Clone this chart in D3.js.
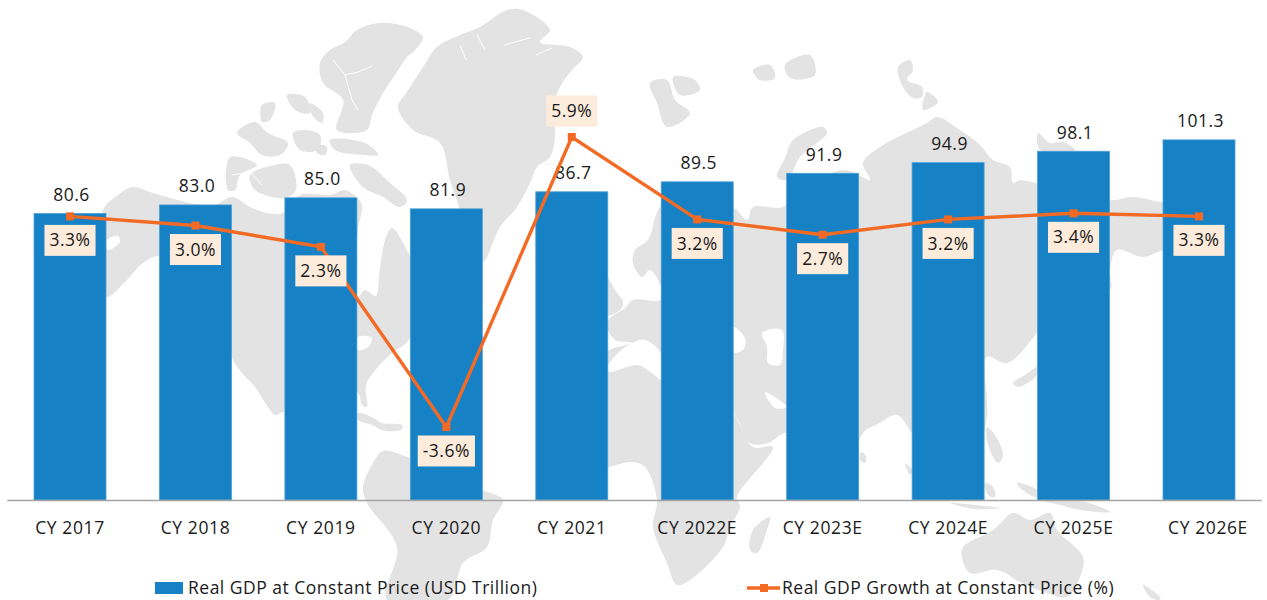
<!DOCTYPE html>
<html>
<head>
<meta charset="utf-8">
<script src="https://cdn.jsdelivr.net/npm/d3@7"></script>
<style>
  html, body { margin: 0; padding: 0; background: #fff; }
  text { font-family: "Open Sans", "Noto Sans", sans-serif; fill: #1a1a1a; }
</style>
</head>
<body>
<div id="chart"></div>
<script>
// Chart data
const categories = ['CY 2017', 'CY 2018', 'CY 2019', 'CY 2020', 'CY 2021', 'CY 2022E', 'CY 2023E', 'CY 2024E', 'CY 2025E', 'CY 2026E'];
const gdpValues = [80.6, 83.0, 85.0, 81.9, 86.7, 89.5, 91.9, 94.9, 98.1, 101.3];
const growthValues = [3.3, 3.0, 2.3, -3.6, 5.9, 3.2, 2.7, 3.2, 3.4, 3.3];
const gdpLegend = 'Real GDP at Constant Price (USD Trillion)';
const growthLegend = 'Real GDP Growth at Constant Price (%)';

// Background world map, traced by hand in page pixels
const landShapes = [
  // North America
  [[103,210],[118,195],[133,187],[150,192],[167,197],[200,205],[215,205],[232,197],[250,207],[267,213],[283,213],[300,195],[330,195],[345,190],[357,198],[362,205],[358,230],[358,262],[372,262],[376,290],[385,240],[392,228],[408,252],[412,262],[410,338],[392,353],[378,367],[366,385],[367,407],[362,405],[358,393],[340,395],[310,430],[300,440],[285,412],[275,415],[268,407],[255,387],[242,373],[232,358],[225,320],[190,280],[160,256],[143,263],[125,282],[107,297],[106,240]],
  // Central America, Cuba and the islands
  [[358,413],[372,417],[382,423],[402,425],[402,429],[385,431],[372,425],[358,420]],
  // South America
  [[373,463],[383,451],[410,458],[440,470],[483,490],[503,500],[493,520],[487,547],[463,563],[448,600],[387,600],[397,547],[367,503],[363,487]],
  // Greenland
  [[398,107],[407,92],[423,67],[437,47],[460,35],[480,27],[507,10],[523,10],[550,30],[540,42],[570,47],[583,57],[572,70],[560,87],[553,110],[555,135],[550,157],[537,167],[530,183],[517,207],[500,227],[482,263],[470,250],[460,210],[450,180],[440,143],[413,130]],
  // Ellesmere and Devon
  [[320,63],[330,50],[345,42],[357,30],[380,23],[407,27],[423,37],[415,50],[407,57],[395,75],[383,93],[372,115],[367,130],[337,130],[343,100],[323,83]],
  // Arctic archipelago
  [[237,133],[255,122],[268,133],[288,143],[280,155],[262,155],[250,143]],
  [[287,95],[305,97],[310,113],[295,110]],
  [[310,103],[323,113],[322,123],[312,115]],
  [[262,105],[275,103],[270,120],[262,122]],
  [[293,133],[305,130],[320,135],[318,150],[300,150]],
  [[330,140],[365,143],[378,155],[365,155],[335,150]],
  [[317,145],[327,147],[325,155],[317,153]],
  [[230,157],[257,165],[240,175],[235,190],[228,190]],
  [[250,175],[275,165],[290,165],[296,190],[285,198],[255,190]],
  [[350,165],[368,165],[390,183],[407,200],[400,207],[383,197],[363,187]],
  // Africa
  [[590,372],[590,470],[608,467],[632,462],[645,467],[657,500],[653,527],[667,563],[677,585],[690,580],[723,547],[730,527],[740,507],[737,497],[773,447],[753,447],[733,413],[700,385],[660,378],[630,370]],
  // Madagascar
  [[770,517],[767,530],[757,553],[750,550],[753,530]],
  // Eurasia
  [[607,372],[632,372],[660,380],[680,385],[733,413],[750,443],[768,443],[787,433],[800,470],[835,500],[850,470],[863,433],[880,423],[897,415],[912,433],[935,460],[975,450],[987,417],[987,357],[1007,363],[1037,333],[1060,300],[1110,290],[1110,270],[1117,250],[1143,257],[1163,250],[1200,240],[1225,215],[1195,200],[1163,202],[1133,197],[1109,200],[1070,185],[1037,183],[1020,180],[1013,183],[1010,167],[993,160],[980,145],[960,130],[937,117],[927,123],[880,147],[863,163],[870,180],[845,170],[800,190],[783,207],[753,207],[747,220],[733,207],[700,200],[662,205],[648,240],[635,250],[633,263],[642,277],[650,270],[662,290],[660,300],[633,300],[625,308],[608,320],[607,327],[615,340],[632,343],[607,352]],
  // Britain
  [[607,277],[615,290],[623,302],[620,310],[607,315]],
  // Novaya Zemlya
  [[777,177],[785,158],[793,140],[823,127],[827,133],[800,157],[787,180]],
  // Svalbard and the northern islands
  [[650,83],[667,80],[675,100],[690,113],[667,127],[657,103]],
  [[673,77],[695,80],[700,90],[680,95]],
  [[753,70],[770,65],[775,78],[760,80]],
  [[785,65],[810,55],[815,75],[790,78]],
  [[898,67],[910,60],[913,70],[907,80],[922,87],[922,97],[913,98],[902,85]],
  [[927,92],[938,102],[923,110]],
  [[1038,133],[1050,143],[1063,142],[1075,150],[1040,150]],
  [[1030,290],[1038,293],[1038,298]],
  // Sri Lanka, Philippines, Indonesia
  [[861,452],[866,456],[865,463],[860,460]],
  [[987,427],[995,435],[1003,455],[998,463],[988,445]],
  [[985,483],[993,487],[995,497],[988,495]],
  [[1017,483],[1037,490],[1037,497],[1025,492]],
  [[950,503],[975,505],[1000,508],[975,509]],
  [[1040,500],[1085,502],[1110,512],[1080,510],[1060,505]],
  [[905,463],[912,470],[910,475]],
  // Japan
  [[1013,383],[1025,375],[1037,367],[1037,375],[1018,387]],
  // Australia
  [[963,547],[993,530],[1013,513],[1030,520],[1050,513],[1057,530],[1083,557],[1080,577],[1067,597],[1047,593],[1020,582],[997,570],[970,573],[962,557]],
  // New Zealand
  [[1143,585],[1160,597],[1160,600],[1150,597]]
];

// Seas and lakes cut back out of the land
const waterShapes = [
  [[358,262],[375,262],[376,296],[365,290],[358,297]],
  [[358,337],[372,338],[368,347],[358,350]],
  [[733,327],[745,338],[743,350],[733,352]],
  [[762,333],[782,330],[783,350],[780,365],[768,363],[767,347]],
  [[765,392],[787,407],[775,408]],
  [[618,353],[632,343],[645,340],[662,355],[662,380],[652,373],[638,365],[608,372],[607,368]],
  [[107,240],[118,236],[120,242],[108,250]]
];

const fjordLines = [
  [[333,60],[345,75],[358,72],[372,66]],
  [[345,75],[352,100],[358,110]],
  [[504,45],[530,38]],
  [[536,55],[552,48]],
  [[460,45],[466,60]],
  [[477,35],[485,50]],
  [[232,175],[250,172],[262,185]]
];

const width = 1267;
const height = 600;

const svg = d3.select('#chart')
  .append('svg')
  .attr('width', width)
  .attr('height', height)
  .style('display', 'block');

// Scales
const x = d3.scaleBand()
  .domain(categories)
  .range([34, 1235])
  .paddingInner(0.426)
  .paddingOuter(0);

const yBar = d3.scaleLinear()
  .domain([0, 100])
  .range([500, 144.5]);

const yLine = d3.scaleLinear()
  .domain([-3.6, 5.9])
  .range([427, 137]);

const center = d => x(d) + x.bandwidth() / 2;

// Map layer
const outline = d3.line().curve(d3.curveCatmullRomClosed.alpha(0.5));
const map = svg.append('g');

map.selectAll('path.land')
  .data(landShapes)
  .join('path')
  .attr('class', 'land')
  .attr('d', outline)
  .attr('fill', '#e3e3e3');

map.selectAll('path.water')
  .data(waterShapes)
  .join('path')
  .attr('class', 'water')
  .attr('d', outline)
  .attr('fill', '#fff');

map.selectAll('path.fjord')
  .data(fjordLines)
  .join('path')
  .attr('class', 'fjord')
  .attr('d', d3.line())
  .attr('fill', 'none')
  .attr('stroke', '#fff')
  .attr('stroke-width', 1);

// Bars
svg.append('g')
  .selectAll('rect')
  .data(gdpValues)
  .join('rect')
  .attr('x', (d, i) => x(categories[i]))
  .attr('y', d => yBar(d))
  .attr('width', x.bandwidth())
  .attr('height', d => yBar(0) - yBar(d))
  .attr('fill', '#1681c4')
  .attr('stroke', '#4ba0d8')
  .attr('stroke-width', 0.8);

// Bottom axis
const axis = svg.append('g')
  .attr('transform', `translate(0,${yBar(0)})`)
  .call(d3.axisBottom(x).tickSize(0).tickPadding(22));

axis.select('.domain')
  .attr('stroke', '#a3a3a3')
  .attr('stroke-width', 1.5)
  .attr('d', 'M7.3,0.5H1261.7');

axis.selectAll('text')
  .style('font-family', '"Open Sans", "Noto Sans", sans-serif')
  .style('font-size', '17.5px')
  .style('letter-spacing', '0.6px')
  .attr('fill', '#1a1a1a');

// The last label sits a little right of its bar in the original
axis.selectAll('text')
  .filter(d => d === categories[categories.length - 1])
  .attr('x', 9);

// Value labels above the bars
svg.append('g')
  .selectAll('text')
  .data(gdpValues)
  .join('text')
  .attr('x', (d, i) => center(categories[i]) + 1.5)
  .attr('y', d => yBar(d) - 12.5)
  .attr('text-anchor', 'middle')
  .style('font-size', '17.5px')
  .style('letter-spacing', '0.5px')
  .text(d => d.toFixed(1));

// Growth line
const growthLine = d3.line()
  .x((d, i) => center(categories[i]))
  .y(d => yLine(d));

svg.append('path')
  .datum(growthValues)
  .attr('d', growthLine)
  .attr('fill', 'none')
  .attr('stroke', '#f36a25')
  .attr('stroke-width', 3.4);

svg.append('g')
  .selectAll('rect')
  .data(growthValues)
  .join('rect')
  .attr('x', (d, i) => center(categories[i]) - 4)
  .attr('y', d => yLine(d) - 4)
  .attr('width', 8)
  .attr('height', 8)
  .attr('fill', '#f36a25');

// Growth labels sit under the point, except the peak
const growthLabels = svg.append('g')
  .selectAll('g')
  .data(growthValues)
  .join('g')
  .attr('transform', (d, i) => {
    const offset = d === d3.max(growthValues) ? -26 : 24;
    return `translate(${center(categories[i])},${yLine(d) + offset})`;
  });

growthLabels.append('rect')
  .attr('fill', '#fdebdc');

growthLabels.append('text')
  .attr('text-anchor', 'middle')
  .attr('dy', '0.35em')
  .style('font-size', '17.5px')
  .style('letter-spacing', '0.5px')
  .text(d => d.toFixed(1) + '%');

growthLabels.each(function() {
  const label = d3.select(this);
  const w = label.select('text').node().getComputedTextLength() + 10;
  label.select('rect')
    .attr('x', -w / 2)
    .attr('y', -15.5)
    .attr('width', w)
    .attr('height', 31);
});

// Legend
const legend = svg.append('g');

legend.append('rect')
  .attr('x', 155)
  .attr('y', 582)
  .attr('width', 28)
  .attr('height', 12)
  .attr('fill', '#1681c4');

legend.append('text')
  .attr('x', 188)
  .attr('y', 594)
  .style('font-size', '17.5px')
  .style('letter-spacing', '0.5px')
  .text(gdpLegend);

legend.append('line')
  .attr('x1', 747)
  .attr('x2', 780)
  .attr('y1', 588)
  .attr('y2', 588)
  .attr('stroke', '#f36a25')
  .attr('stroke-width', 3.4);

legend.append('rect')
  .attr('x', 760)
  .attr('y', 584)
  .attr('width', 8)
  .attr('height', 8)
  .attr('fill', '#f36a25');

legend.append('text')
  .attr('x', 782)
  .attr('y', 594)
  .style('font-size', '17.5px')
  .style('letter-spacing', '0.5px')
  .text(growthLegend);
</script>
</body>
</html>
